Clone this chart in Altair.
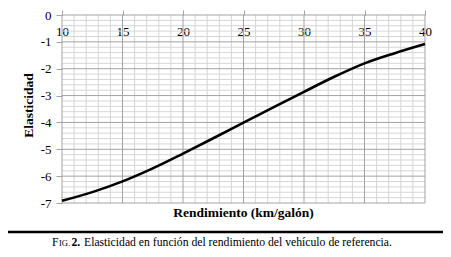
import altair as alt
import pandas as pd

# Data
rendimiento = [10, 12.5, 15, 17.5, 20, 22.5, 25, 27.5, 30, 32.5, 35, 37.5, 40]
elasticidad = [-6.92, -6.595, -6.195, -5.71, -5.16, -4.59, -4.01, -3.43, -2.86, -2.30, -1.80, -1.42, -1.08]

x_major = [10, 15, 20, 25, 30, 35, 40]
x_minor = [v for v in range(10, 41) if v % 5 != 0]
y_major = [0, -1, -2, -3, -4, -5, -6, -7]
y_minor = [round(-7 + 0.2 * i, 1) for i in range(36) if i % 5 != 0]

x_title = ["Rendimiento (km/galón)"]
y_title = "Elasticidad"
cap_f = ["F"]
cap_ig = ["IG."]
cap_num = ["2."]
cap_rest = ["Elasticidad en función del rendimiento del vehículo de referencia."]

W, H = 363, 188
FONT = "Liberation Serif, Times New Roman, Times, serif"
MAJOR = "#a3a3a3"
MINOR = "#d6d6d6"

df = pd.DataFrame({"rend": rendimiento, "elas": elasticidad})
xs = alt.Scale(domain=[10, 40], nice=False, zero=False)
ys = alt.Scale(domain=[-7, 0], nice=False, zero=False)

x_axis = alt.Axis(
    orient="top",
    values=x_major,
    labelExpr="'' + datum.value",
    labelOverlap=False,
    labelFlush=False,
    grid=False,
    tickSize=5,
    tickColor=MAJOR,
    labelPadding=-15,
    labelBaseline="top",
    labelFont=FONT,
    labelFontSize=13,
    labelColor="black",
    domain=False,
    title=None,
)

y_axis = alt.Axis(
    values=y_major,
    labelExpr="'' + round(datum.value)",
    labelOverlap=False,
    labelFlush=False,
    grid=False,
    tickSize=6,
    tickColor=MAJOR,
    labelPadding=5,
    labelFont=FONT,
    labelFontSize=13,
    labelColor="black",
    domain=False,
    title=y_title,
    titleFont=FONT,
    titleFontSize=13.5,
    titleFontWeight="bold",
    titleColor="black",
    titleX=-34,
    titleY=90,
    titleBaseline="middle",
)

def vgrid(vals, color):
    return alt.Chart(pd.DataFrame({"rend": vals})).mark_rule(color=color, strokeWidth=1).encode(
        x=alt.X("rend:Q", scale=xs, axis=x_axis)
    )

def hgrid(vals, color):
    return alt.Chart(pd.DataFrame({"elas": vals})).mark_rule(color=color, strokeWidth=1).encode(
        y=alt.Y("elas:Q", scale=ys, axis=y_axis)
    )

line = alt.Chart(df).mark_line(color="black", strokeWidth=2.6, interpolate="monotone").encode(
    x=alt.X("rend:Q", scale=xs, axis=x_axis),
    y=alt.Y("elas:Q", scale=ys, axis=y_axis),
)

def txt(values, x, y, size, weight="normal", align="left"):
    return alt.Chart(pd.DataFrame({"t": values})).mark_text(
        font=FONT, fontSize=size, fontWeight=weight, align=align, baseline="middle", color="black"
    ).encode(text="t:N", x=alt.value(x), y=alt.value(y))

xt = txt(x_title, W / 2, 198, 13.5, "bold", "center")
rule = alt.Chart(pd.DataFrame({"a": [0]})).mark_rule(color="black", strokeWidth=2.6).encode(
    x=alt.value(-54), x2=alt.value(381), y=alt.value(217)
)
c1 = txt(cap_f, -10, 227, 11.7)
c2 = txt(cap_ig, -3, 228, 8.5)
c3 = txt(cap_num, 9.5, 227, 11.7, "bold")
c4 = txt(cap_rest, 22, 227, 11.7)

chart = alt.layer(
    vgrid(x_minor, MINOR), hgrid(y_minor, MINOR), vgrid(x_major, MAJOR), hgrid(y_major, MAJOR),
    line, xt, rule, c1, c2, c3, c4
).properties(
    width=W,
    height=H,
    autosize=alt.AutoSizeParams(type="none"),
    padding={"left": 54, "top": 7, "right": 18, "bottom": 46},
    background="white",
).configure_view(stroke=None)

chart.save("out.html", embed_options={"renderer": "svg", "actions": False})
